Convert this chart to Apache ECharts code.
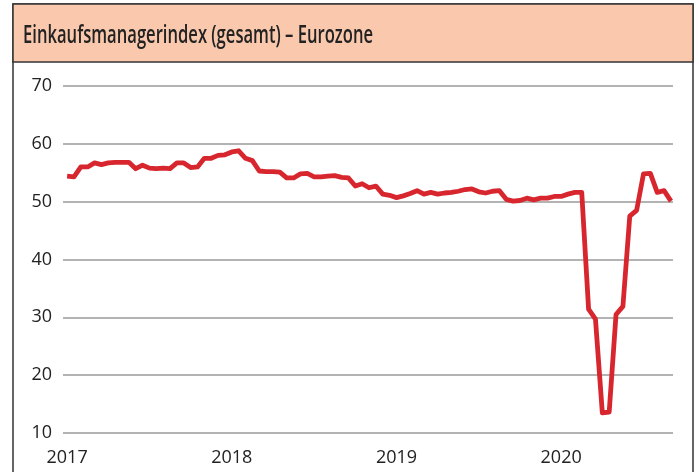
<!DOCTYPE html>
<html>
<head>
<meta charset="utf-8">
<script src="https://cdn.jsdelivr.net/npm/echarts@6/dist/echarts.min.js"></script>
<style>
  html, body { margin: 0; padding: 0; background: #fff; }
  #chart { width: 699px; height: 472px; }
</style>
</head>
<body>
<div id="chart"></div>
<script>
// Einkaufsmanagerindex Eurozone, je Monat Flash- und finaler Wert
var years = ['2017', '2018', '2019', '2020'];
var pmi2017 = [54.4, 54.3, 56.0, 56.0, 56.7, 56.4, 56.7, 56.8, 56.8, 56.8, 55.7, 56.3,
               55.8, 55.7, 55.8, 55.7, 56.7, 56.7, 55.9, 56.0, 57.5, 57.5, 58.0, 58.1];
var pmi2018 = [58.6, 58.8, 57.5, 57.1, 55.3, 55.2, 55.2, 55.1, 54.1, 54.1, 54.8, 54.9,
               54.3, 54.3, 54.4, 54.5, 54.2, 54.1, 52.7, 53.1, 52.4, 52.7, 51.3, 51.1];
var pmi2019 = [50.7, 51.0, 51.4, 51.9, 51.3, 51.6, 51.3, 51.5, 51.6, 51.8, 52.1, 52.2,
               51.7, 51.5, 51.8, 51.9, 50.4, 50.1, 50.2, 50.6, 50.3, 50.6, 50.6, 50.9];
var pmi2020 = [50.9, 51.3, 51.6, 51.6, 31.4, 29.7, 13.5, 13.6, 30.5, 31.9, 47.5, 48.5,
               54.8, 54.9, 51.6, 51.9, 50.1];
var yTicks = [10, 20, 30, 40, 50, 60, 70];
var titleText = 'Einkaufsmanagerindex (gesamt) – Eurozone';

var values = pmi2017.concat(pmi2018, pmi2019, pmi2020);
var seriesData = values.map(function (v, i) { return [i, v]; });
var yearStarts = years.map(function (y, i) { return i * 24; });

// Titel schmal laufen lassen (Schrift im Original ist kondensiert)
var ctx = document.createElement('canvas').getContext('2d');
ctx.font = '600 25px "Open Sans"';
var titleScale = 350 / ctx.measureText(titleText).width;

var chart = echarts.init(document.getElementById('chart'));

var option = {
  animation: false,
  backgroundColor: '#fff',
  graphic: [
    {
      type: 'rect',
      z: -10,
      shape: { x: 13, y: 4, width: 680, height: 520 },
      style: { fill: '#fff', stroke: '#333', lineWidth: 1.5 }
    },
    {
      type: 'rect',
      z: -9,
      shape: { x: 13, y: 4, width: 680, height: 58 },
      style: { fill: '#fac9ad', stroke: '#333', lineWidth: 1.5 }
    },
    {
      type: 'text',
      x: 23,
      y: 36,
      scaleX: titleScale,
      style: {
        text: titleText,
        fontFamily: 'Open Sans',
        fontWeight: 600,
        fontSize: 25,
        fill: '#222',
        verticalAlign: 'middle'
      }
    }
  ],
  grid: { left: 63, right: 26, top: 86, bottom: 39 },
  xAxis: {
    type: 'value',
    min: -0.6,
    max: 88.3,
    axisLine: { show: false },
    axisTick: { show: false },
    splitLine: { show: false },
    axisLabel: {
      customValues: yearStarts,
      margin: 16,
      fontFamily: 'Open Sans',
      fontSize: 18,
      color: '#222',
      formatter: function (v) { return years[Math.round(v / 24)]; }
    }
  },
  yAxis: {
    type: 'value',
    min: yTicks[0],
    max: yTicks[yTicks.length - 1],
    interval: 10,
    axisLine: { show: false },
    axisTick: { show: false },
    axisLabel: {
      margin: 11,
      fontFamily: 'Open Sans',
      fontSize: 18,
      color: '#222'
    },
    splitLine: { lineStyle: { color: '#9a9a9a', width: 1.5 } }
  },
  series: [
    {
      type: 'line',
      data: seriesData,
      showSymbol: false,
      lineStyle: { color: '#d7262e', width: 4.8, join: 'round' }
    }
  ]
};

chart.setOption(option);
</script>
</body>
</html>
